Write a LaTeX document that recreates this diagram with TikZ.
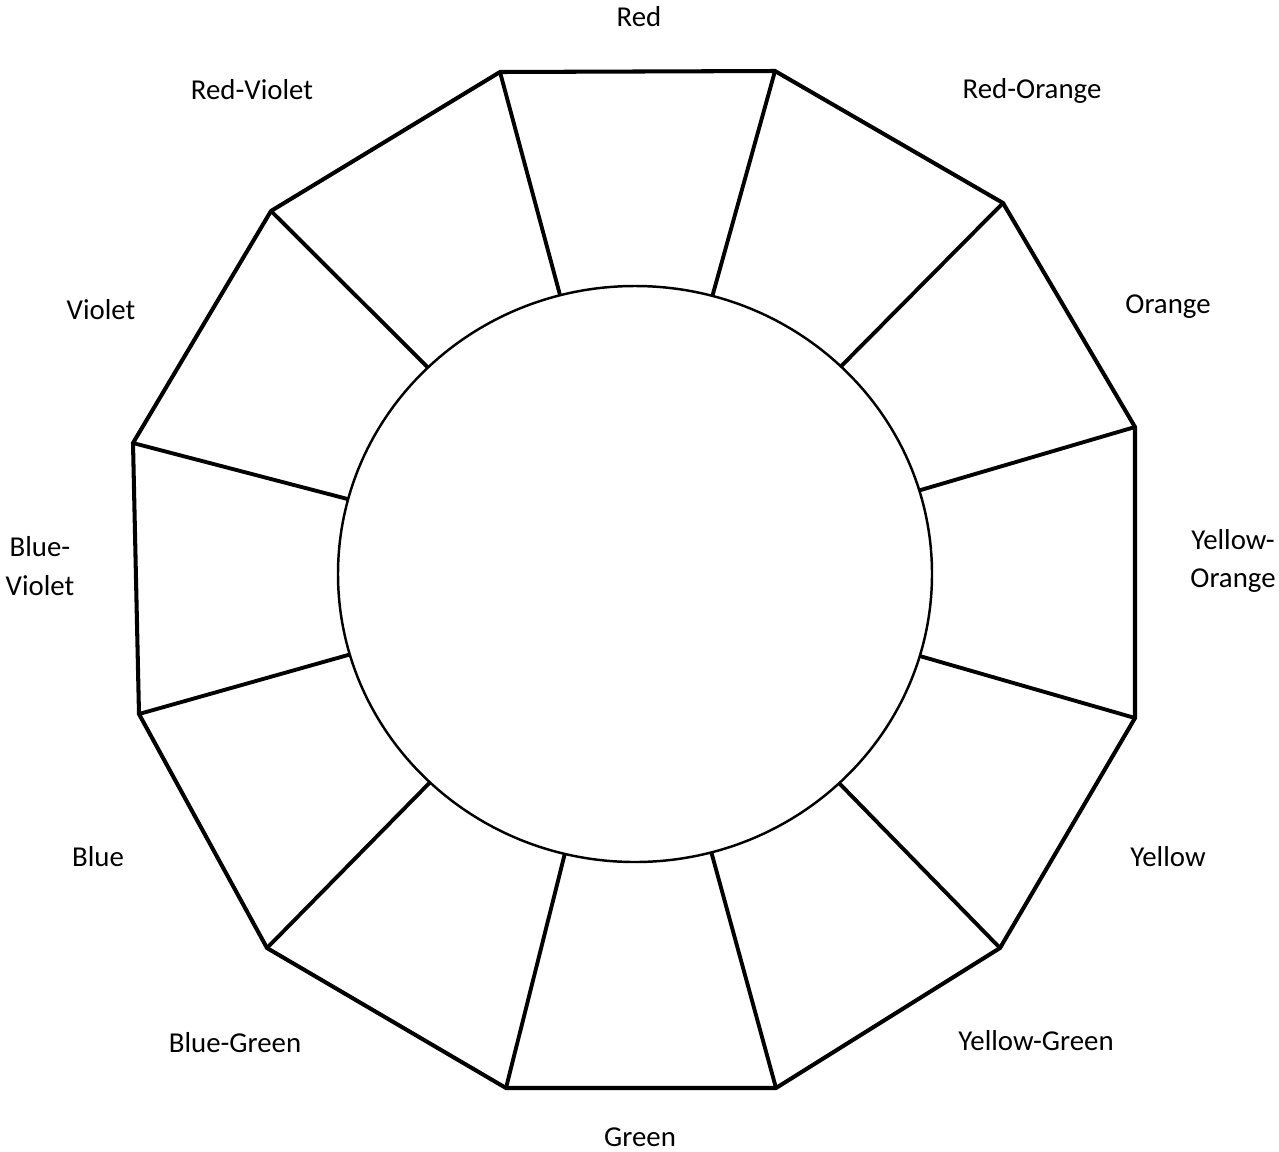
\documentclass[tikz,border=0pt]{standalone}
\usepackage{fontspec}
\setmainfont{Carlito}
\usepackage{tikz}

\tikzset{
  rim/.style={black, line width=1.15pt, line join=miter},
  spoke/.style={black, line width=1.1pt},
  hub/.style={black, line width=0.7pt, fill=white},
  hue/.style={font=\fontsize{8.2}{11}\selectfont, align=center, inner sep=0pt}
}

\begin{document}
\begin{tikzpicture}[x=0.01cm, y=-0.01cm]
        \useasboundingbox (0, 0) rectangle (1279, 1151);
        % corners of the wheel
        \coordinate (c) at (635, 574);
        \coordinate (v1) at (500, 72);
        \coordinate (v2) at (775, 71);
        \coordinate (v3) at (1003, 203);
        \coordinate (v4) at (1135, 427);
        \coordinate (v5) at (1135, 718);
        \coordinate (v6) at (1000, 948);
        \coordinate (v7) at (776, 1088);
        \coordinate (v8) at (506, 1088);
        \coordinate (v9) at (267, 948);
        \coordinate (v10) at (139, 714);
        \coordinate (v11) at (133, 443);
        \coordinate (v12) at (271, 211);
        % spokes, cut off by the hub
        \foreach \i in {1,...,12} \draw[spoke] (v\i) -- (c);
        \draw[rim] (v1) -- (v2) -- (v3) -- (v4) -- (v5) -- (v6) -- (v7) -- (v8) -- (v9) -- (v10) -- (v11) -- (v12) -- cycle;
        \filldraw[hub] (c) ellipse [x radius=297, y radius=288];
        % labels
        \node[hue] (red) at (639, 17) {Red};
        \node[hue] (redorange) at (1032, 91) {Red-Orange};
        \node[hue] (orange) at (1168, 307) {Orange};
        \node[hue] (yelloworange) at (1233, 561) {Yellow-\\Orange};
        \node[hue] (yellow) at (1168, 857) {Yellow};
        \node[hue] (yellowgreen) at (1036, 1041) {Yellow-Green};
        \node[hue] (green) at (640, 1137) {Green};
        \node[hue] (bluegreen) at (235, 1043) {Blue-Green};
        \node[hue] (blue) at (98, 857) {Blue};
        \node[hue] (blueviolet) at (40, 566) {Blue-\\Violet};
        \node[hue] (violet) at (101, 310) {Violet};
        \node[hue] (redviolet) at (252, 90) {Red-Violet};
    \end{tikzpicture}
\end{document}
